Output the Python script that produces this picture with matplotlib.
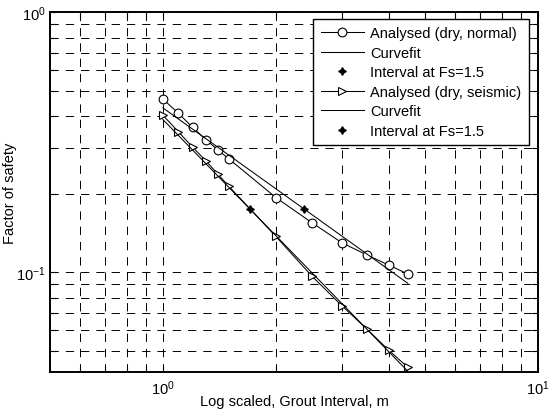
import matplotlib
matplotlib.use("Agg")
import matplotlib.pyplot as plt
from matplotlib.ticker import FixedLocator, FixedFormatter, NullFormatter

plt.rcParams['font.family'] = ['Liberation Sans', 'DejaVu Sans']
plt.rcParams['mathtext.fontset'] = 'custom'
plt.rcParams['mathtext.rm'] = 'Liberation Sans'
plt.rcParams['mathtext.it'] = 'Liberation Sans:italic'
plt.rcParams['mathtext.default'] = 'regular'
plt.rcParams['lines.scale_dashes'] = False

# ---- data ----
interval = [1.0, 1.1, 1.2, 1.3, 1.4, 1.5, 2.0, 2.5, 3.0, 3.5, 4.0, 4.5]
fs_normal = [0.464, 0.409, 0.361, 0.324, 0.296, 0.273, 0.194, 0.155, 0.130, 0.1166, 0.1067, 0.0985]
fs_seismic = [0.402, 0.347, 0.303, 0.269, 0.239, 0.214, 0.1375, 0.0965, 0.0744, 0.0605, 0.0502, 0.0431]

fit_x = [1.0, 4.5]
fit_normal = [0.429, 0.0907]
fit_seismic = [0.387, 0.0416]

star_normal_x = [2.38]
star_normal_y = [0.175]
star_seismic_x = [1.71]
star_seismic_y = [0.175]

xtick_vals = [1, 10]
xtick_labels = ['$10^{0}$', '$10^{1}$']
ytick_vals = [0.1, 1]
ytick_labels = ['$10^{-1}$', '$10^{0}$']

labels = ['Analysed (dry, normal)', 'Curvefit', 'Interval at Fs=1.5',
          'Analysed (dry, seismic)', 'Curvefit', 'Interval at Fs=1.5']

# ---- figure ----
W, H = 548, 414
fig = plt.figure(figsize=(W / 100, H / 100), dpi=100)
L, R, T, B = 50, 538, 13.3, 372.7
ax = fig.add_axes([L / W, 1 - B / H, (R - L) / W, (B - T) / H])

star = (4, 1, 0)
lw = 0.75
h1, = ax.plot(interval, fs_normal, color='black', lw=lw, marker='o', ms=6.3,
              mfc='white', mec='black', mew=0.8)
h2, = ax.plot(fit_x, fit_normal, color='black', lw=lw)
h3, = ax.plot(star_normal_x, star_normal_y, ls='none', marker=star, ms=5.5, color='black')
h4, = ax.plot(interval, fs_seismic, color='black', lw=lw, marker='>', ms=6.3,
              mfc='white', mec='black', mew=0.8)
h5, = ax.plot(fit_x, fit_seismic, color='black', lw=lw)
h6, = ax.plot(star_seismic_x, star_seismic_y, ls='none', marker=star, ms=5.5, color='black')

ax.set_xscale('log')
ax.set_yscale('log')
ax.set_xlim(0.5, 10)
ax.set_ylim(0.0415, 1)

ax.xaxis.set_major_locator(FixedLocator(xtick_vals))
ax.xaxis.set_major_formatter(FixedFormatter(xtick_labels))
ax.yaxis.set_major_locator(FixedLocator(ytick_vals))
ax.yaxis.set_major_formatter(FixedFormatter(ytick_labels))
ax.xaxis.set_minor_locator(FixedLocator([0.6, 0.7, 0.8, 0.9, 2, 3, 4, 5, 6, 7, 8, 9]))
ax.yaxis.set_minor_locator(FixedLocator([0.05, 0.06, 0.07, 0.08, 0.09,
                                         0.2, 0.3, 0.4, 0.5, 0.6, 0.7, 0.8, 0.9]))
ax.xaxis.set_minor_formatter(NullFormatter())
ax.yaxis.set_minor_formatter(NullFormatter())

ax.grid(True, which='both', color='black', lw=0.7, linestyle=(0, (6, 5)))
ax.tick_params(which='both', direction='in', top=True, right=True,
               length=4, width=0.8, labelsize=10.5, colors='black')
ax.tick_params(axis='x', pad=5)
ax.tick_params(axis='y', pad=3)
for s in ax.spines.values():
    s.set_linewidth(1.4)

ax.set_xlabel('Log scaled, Grout Interval, m', fontsize=10.5)
ax.set_ylabel('Factor of safety', fontsize=10.5)
ax.xaxis.set_label_coords(0.5, -0.063)
ax.yaxis.set_label_coords(-0.068, 0.5)

leg = ax.legend([h1, h2, h3, h4, h5, h6], labels, loc='upper left',
                bbox_to_anchor=(313.3 / W, 1 - 20 / H), bbox_transform=fig.transFigure,
                borderaxespad=0, fancybox=False, framealpha=1, edgecolor='black',
                fontsize=10.5, handlelength=3.0, handletextpad=0.4,
                labelspacing=0.38, borderpad=0.5, numpoints=1)
leg.get_frame().set_linewidth(1.0)

fig.savefig('out.png', dpi=100)
